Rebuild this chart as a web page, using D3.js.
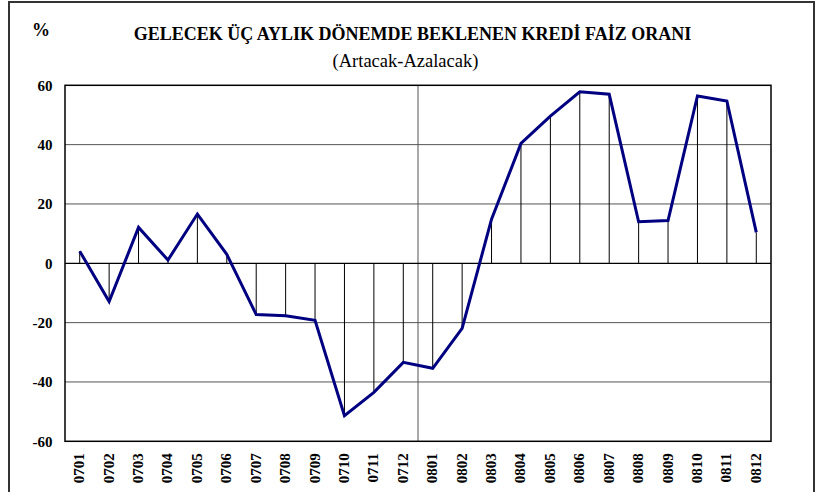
<!DOCTYPE html>
<html><head><meta charset="utf-8">
<script src="https://cdn.jsdelivr.net/npm/d3@7"></script>
<style>body{margin:0;background:#fff}svg{display:block}</style>
</head><body>
<script>
const categories = ["0701","0702","0703","0704","0705","0706","0707","0708","0709","0710","0711","0712",
  "0801","0802","0803","0804","0805","0806","0807","0808","0809","0810","0811","0812"];
const values = [4.1,-12.9,12.1,1.1,16.6,3.0,-17.3,-17.7,-19.2,-51.4,-43.5,-33.4,
  -35.4,-21.9,14.9,40.4,49.6,57.8,57.0,14.0,14.4,56.4,54.7,10.4];
const yTicks = [60,40,20,0,-20,-40,-60];
const title = "GELECEK ÜÇ AYLIK DÖNEMDE BEKLENEN KREDİ FAİZ ORANI";
const subtitle = "(Artacak-Azalacak)";
const unit = "%";
const dividerCategory = "0801";

const W = 835, H = 492;
const svg = d3.select("body").append("svg").attr("width", W).attr("height", H);
const font = "Liberation Serif";

// outer frame
svg.append("rect").attr("x",9).attr("y",2).attr("width",805).attr("height",H+10)
  .attr("fill","none").attr("stroke","#333").attr("stroke-width",2);

const L = 65, R = 771, T = 85.3, B = 441.3;
const x = d3.scaleBand().domain(categories).range([L, R]).padding(0);
const y = d3.scaleLinear().domain([-60, 60]).range([B, T]);
const cx = d => x(d) + x.bandwidth()/2;

// gridlines
svg.append("g").selectAll("line").data(yTicks.filter(t => t !== 60 && t !== -60 && t !== 0)).join("line")
  .attr("x1", L).attr("x2", R).attr("y1", d => y(d)).attr("y2", d => y(d))
  .attr("stroke","#555").attr("stroke-width",1);

// divider
svg.append("line").attr("x1", x(dividerCategory)).attr("x2", x(dividerCategory))
  .attr("y1", T).attr("y2", B).attr("stroke","#555").attr("stroke-width",1);

// drop lines
svg.append("g").selectAll("line").data(categories).join("line")
  .attr("x1", d => cx(d)).attr("x2", d => cx(d))
  .attr("y1", y(0)).attr("y2", (d,i) => y(values[i]))
  .attr("stroke","#000").attr("stroke-width",1);

// zero line
svg.append("line").attr("x1", L).attr("x2", R).attr("y1", y(0)).attr("y2", y(0))
  .attr("stroke","#000").attr("stroke-width",1.2);

// plot border
svg.append("rect").attr("x", L).attr("y", T).attr("width", R-L).attr("height", B-T)
  .attr("fill","none").attr("stroke","#000").attr("stroke-width",1.5);

// line
const line = d3.line().x((d,i) => cx(categories[i])).y(d => y(d));
svg.append("path").datum(values).attr("d", line)
  .attr("fill","none").attr("stroke","#000080").attr("stroke-width",3).attr("stroke-linejoin","miter");

// y axis labels
const yAxis = d3.axisLeft(y).tickValues(yTicks).tickSize(0).tickPadding(12.5).tickFormat(d => String(d));
const gy = svg.append("g").attr("transform",`translate(${L},0)`).call(yAxis).attr("font-family", font);
gy.select(".domain").remove();
gy.selectAll("text").attr("font-family", font).attr("font-weight","bold").attr("font-size",15).attr("fill","#000");

// x axis labels
const xAxis = d3.axisBottom(x).tickSize(0).tickPadding(0);
const gx = svg.append("g").attr("transform",`translate(0,${B})`).call(xAxis).attr("font-family", font);
gx.select(".domain").remove();
gx.selectAll("text").attr("font-family", font).attr("font-weight","bold").attr("font-size",15).attr("fill","#000")
  .attr("transform","rotate(-90)").attr("text-anchor","end").attr("x",-12).attr("y",0).attr("dy","0.3em");

// titles
svg.append("text").attr("x", 412.5).attr("y", 40).attr("text-anchor","middle")
  .attr("font-family", font).attr("font-weight","bold").attr("font-size",18).text(title);
svg.append("text").attr("x", 405.5).attr("y", 66.5).attr("text-anchor","middle")
  .attr("font-family", font).attr("font-size",18.5).text(subtitle);
svg.append("text").attr("x", 41).attr("y", 36).attr("text-anchor","middle")
  .attr("font-family", font).attr("font-weight","bold").attr("font-size",18).text(unit);
</script>
</body></html>
